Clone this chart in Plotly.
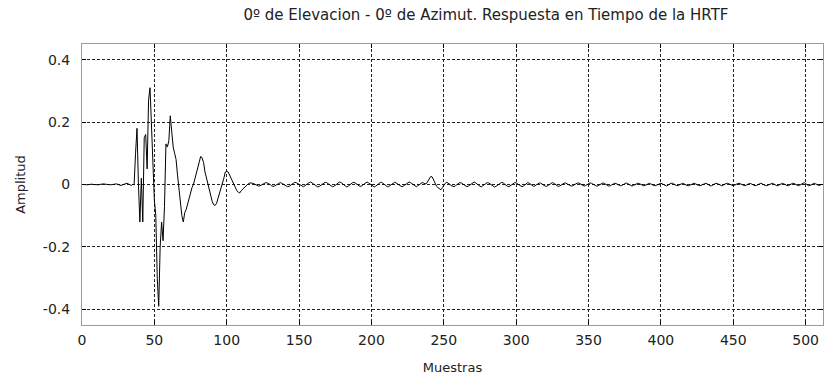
import numpy as np
import plotly.graph_objects as go

# Head-related impulse response, 0° elevation / 0° azimuth (512 samples)
amp_pre = [  # samples 0-35
    0.000, 0.001, 0.000, -0.001, 0.000, 0.001, 0.002, 0.001, 0.000, -0.001,
    -0.002, -0.001, 0.000, 0.001, 0.002, 0.002, 0.001, 0.000, -0.001, -0.002,
    -0.001, 0.000, 0.001, 0.003, 0.002, 0.000, -0.002, -0.003, -0.001, 0.001,
    0.003, 0.004, 0.002, -0.001, -0.003, 0.000,
]
amp_main = [  # samples 36-117
    0.000, 0.100, 0.180, 0.000, -0.120, 0.020, -0.120, 0.150, 0.160, 0.050,
    0.270, 0.310, 0.200, 0.100, -0.050, -0.100, -0.300, -0.390, -0.200, -0.120,
    -0.180, -0.070, 0.130, 0.120, 0.140, 0.220, 0.160, 0.120, 0.100, 0.080,
    0.030, -0.020, -0.060, -0.100, -0.120, -0.090, -0.080, -0.060, -0.040, -0.020,
    -0.010, 0.000, 0.020, 0.040, 0.060, 0.080, 0.090, 0.085, 0.070, 0.040,
    0.020, 0.000, -0.020, -0.040, -0.055, -0.065, -0.067, -0.060, -0.045, -0.030,
    -0.010, 0.000, 0.020, 0.040, 0.042, 0.040, 0.030, 0.015, 0.010, 0.000,
    -0.010, -0.020, -0.025, -0.027, -0.020, -0.015, -0.010, -0.005, 0.000, 0.003,
    0.005, 0.005,
]
amp_tail = [  # samples 118-511
    0.004, 0.002, 0.000, -0.003, -0.005, -0.004, -0.002, 0.001, 0.004, 0.006, 0.005, 0.003,
    0.000, -0.004, -0.006, -0.005, -0.002, 0.002, 0.005, 0.006, 0.004, 0.001,
    -0.002, -0.005, -0.007, -0.006, -0.003, 0.001, 0.004, 0.007, 0.006, 0.003,
    0.000, -0.003, -0.006, -0.007, -0.004, 0.000, 0.003, 0.006, 0.008, 0.005,
    0.002, -0.002, -0.005, -0.008, -0.006, -0.003, 0.001, 0.005, 0.007, 0.006,
    0.003, -0.001, -0.004, -0.007, -0.006, -0.002, 0.002, 0.005, 0.008, 0.006,
    0.002, -0.002, -0.006, -0.008, -0.005, -0.001, 0.003, 0.006, 0.007, 0.004,
    0.001, -0.003, -0.006, -0.005, -0.002, 0.002, 0.006, 0.008, 0.005, 0.001,
    -0.003, -0.007, -0.008, -0.005, -0.001, 0.003, 0.006, 0.007, 0.004, 0.000,
    -0.004, -0.007, -0.006, -0.003, 0.001, 0.005, 0.007, 0.005, 0.002, -0.002,
    -0.005, -0.007, -0.005, -0.001, 0.003, 0.006, 0.008, 0.006, 0.002, -0.002,
    -0.005, -0.007, -0.004, 0.000, 0.004, 0.006, 0.005, 0.002, 0.003, 0.010,
    0.020, 0.026, 0.024, 0.014, 0.003, -0.006, -0.010, -0.013, -0.017, -0.010,
    -0.002, 0.004, 0.007, 0.005, 0.001, -0.003, -0.006, -0.007, -0.004, 0.000,
    0.004, 0.006, 0.005, 0.002, -0.002, -0.005, -0.007, -0.005, -0.001, 0.003,
    0.006, 0.008, 0.005, 0.001, -0.003, -0.006, -0.007, -0.004, 0.000, 0.004,
    0.006, 0.005, 0.002, -0.002, -0.006, -0.008, -0.006, -0.002, 0.002, 0.005,
    0.007, 0.005, 0.001, -0.003, -0.006, -0.007, -0.004, 0.000, 0.003, 0.006,
    0.005, 0.002, -0.002, -0.005, -0.007, -0.005, -0.001, 0.003, 0.006, 0.004,
    0.000, -0.004, -0.006, -0.004, 0.000, 0.003, 0.005, 0.004, 0.001, -0.003,
    -0.005, -0.006, -0.003, 0.001, 0.004, 0.006, 0.004, 0.000, -0.003, -0.006,
    -0.005, -0.002, 0.002, 0.004, 0.005, 0.003, 0.000, -0.003, -0.005, -0.004,
    -0.001, 0.002, 0.004, 0.005, 0.002, -0.001, -0.004, -0.005, -0.003, 0.000,
    0.003, 0.005, 0.004, 0.001, -0.002, -0.004, -0.005, -0.002, 0.001, 0.004,
    0.005, 0.003, 0.000, -0.003, -0.005, -0.004, -0.001, 0.002, 0.004, 0.003,
    0.000, -0.003, -0.004, -0.003, 0.000, 0.003, 0.005, 0.003, 0.000, -0.003,
    -0.005, -0.003, 0.000, 0.003, 0.004, 0.003, 0.000, -0.002, -0.004, -0.003,
    0.000, 0.003, 0.004, 0.002, -0.001, -0.003, -0.004, -0.002, 0.001, 0.003,
    0.004, 0.002, -0.001, -0.004, -0.005, -0.002, 0.001, 0.004, 0.004, 0.001,
    -0.002, -0.004, -0.003, 0.000, 0.003, 0.004, 0.002, -0.001, -0.003, -0.004,
    -0.002, 0.001, 0.003, 0.004, 0.002, -0.001, -0.003, -0.004, -0.002, 0.001,
    0.003, 0.004, 0.002, -0.001, -0.004, -0.004, -0.001, 0.002, 0.004, 0.003,
    0.000, -0.003, -0.004, -0.002, 0.001, 0.003, 0.004, 0.002, -0.001, -0.003,
    -0.004, -0.002, 0.001, 0.003, 0.004, 0.002, -0.001, -0.003, -0.004, -0.002,
    0.001, 0.003, 0.003, 0.001, -0.002, -0.004, -0.003, 0.000, 0.003, 0.004,
    0.002, -0.001, -0.003, -0.004, -0.002, 0.001, 0.003, 0.004, 0.002, -0.001,
    -0.004, -0.003, 0.000, 0.003, 0.004, 0.002, -0.001, -0.003, -0.004, -0.001,
    0.002, 0.004, 0.003, 0.000, -0.003, -0.004, -0.002, 0.001, 0.004, 0.006,
    0.003, -0.001, -0.004, -0.003, 0.000, 0.003, 0.004, 0.002, -0.001, -0.003,
    -0.002, 0.000,
]

amplitude = amp_pre + amp_main + amp_tail
samples = np.arange(len(amplitude))

x_ticks = [0, 50, 100, 150, 200, 250, 300, 350, 400, 450, 500]
y_ticks = [-0.4, -0.2, 0, 0.2, 0.4]
y_tick_text = ["-0.4", "-0.2", "0", "0.2", "0.4"]

FONT = "DejaVu Sans, Verdana, sans-serif"
TEXT_COLOR = "#222222"

fig = go.Figure(
    go.Scatter(
        x=samples,
        y=amplitude,
        mode="lines",
        line=dict(color="#000000", width=1),
        hoverinfo="x+y",
    )
)

axis_common = dict(
    showline=True,
    linecolor="#9a9a9a",
    linewidth=1,
    mirror="ticks",
    ticks="inside",
    ticklen=4,
    tickcolor="#000000",
    tickwidth=1,
    showgrid=True,
    gridcolor="#222222",
    gridwidth=1,
    griddash="3px,2px",
    zeroline=False,
    automargin=False,
    tickfont=dict(family=FONT, size=14, color=TEXT_COLOR),
)

fig.update_xaxes(
    range=[0, 512],
    tickvals=x_ticks,
    ticklabelstandoff=2,
    title=dict(text="Muestras", font=dict(family=FONT, size=13, color=TEXT_COLOR), standoff=16),
    **axis_common,
)
fig.update_yaxes(
    range=[-0.45, 0.45],
    tickvals=y_ticks,
    ticktext=y_tick_text,
    ticklabelstandoff=8,
    title=dict(text="Amplitud", font=dict(family=FONT, size=13, color=TEXT_COLOR), standoff=14),
    **axis_common,
)

fig.update_layout(
    width=825,
    height=377,
    margin=dict(l=82, r=2, t=44, b=52),
    paper_bgcolor="#ffffff",
    plot_bgcolor="#ffffff",
    showlegend=False,
    title=dict(
        text="0º de Elevacion - 0º de Azimut. Respuesta en Tiempo de la HRTF",
        x=0.589,
        xanchor="center",
        y=1 - 15 / 377,
        yanchor="middle",
        font=dict(family=FONT, size=15, color=TEXT_COLOR),
    ),
)

fig.write_html("out.html")
